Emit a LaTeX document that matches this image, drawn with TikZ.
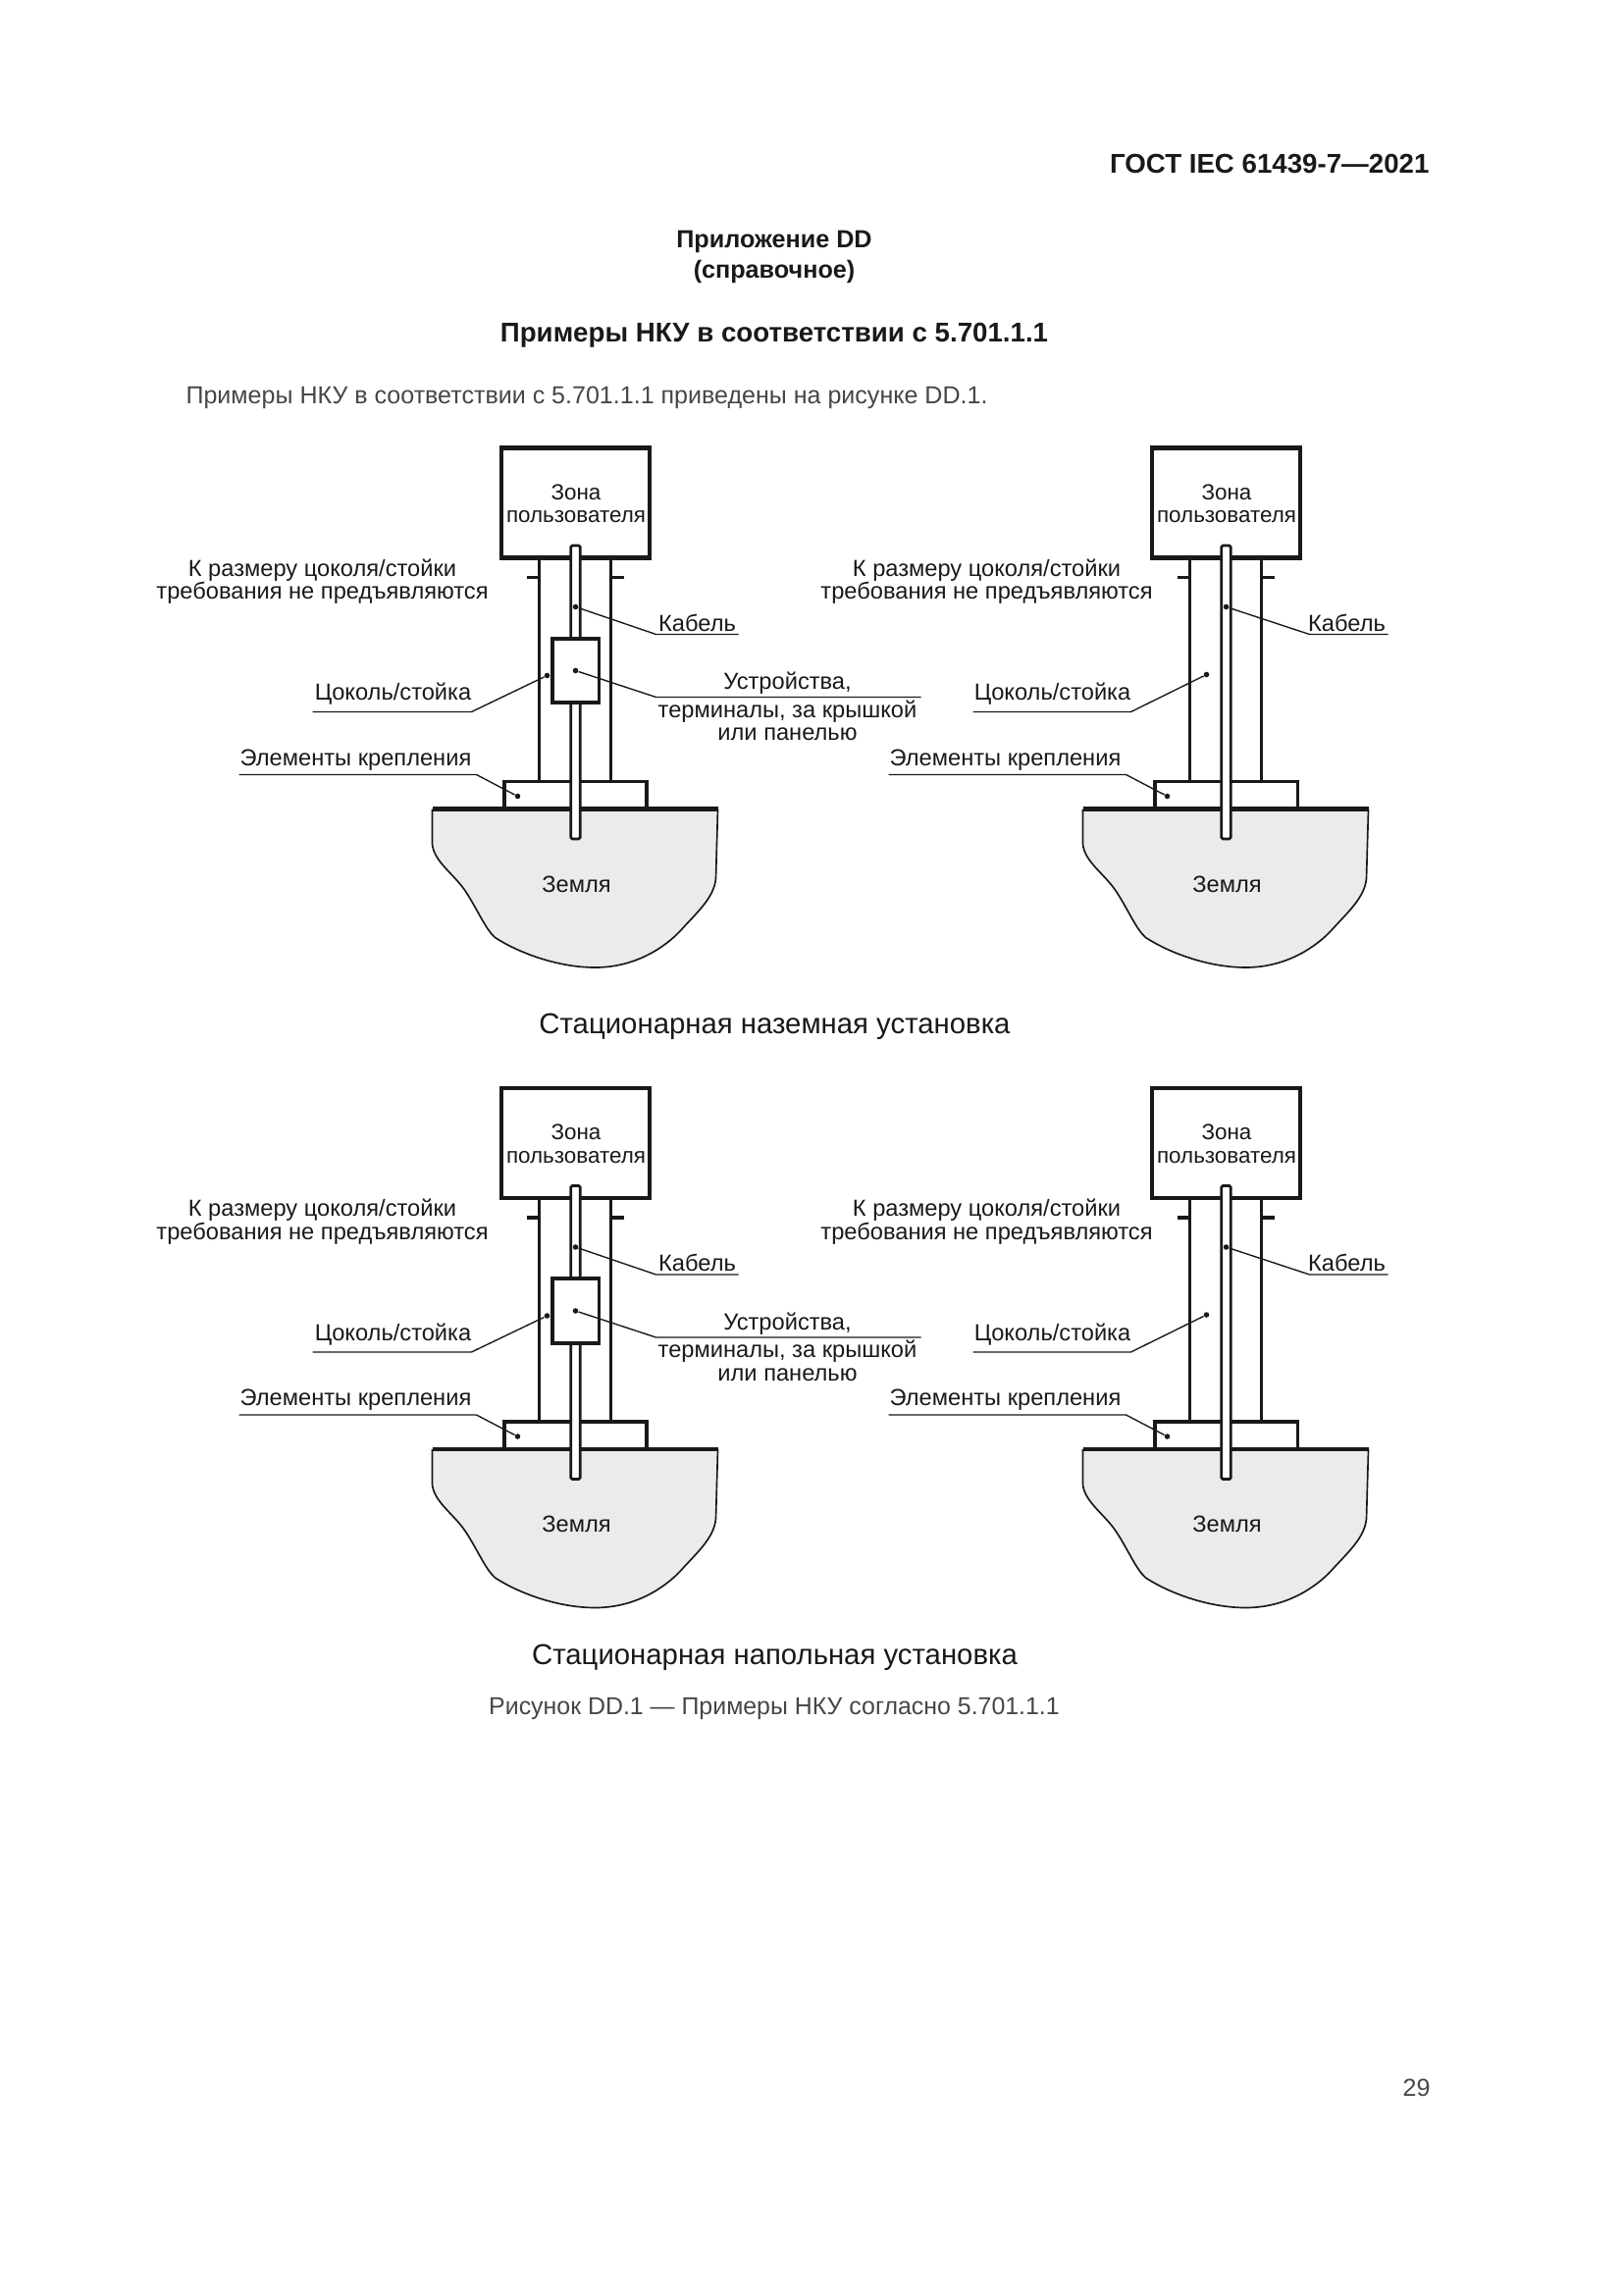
\documentclass[tikz,border=0pt]{standalone}
\usepackage{fontspec}
\setmainfont{Liberation Sans}
\usetikzlibrary{positioning}
\definecolor{ink}{RGB}{25, 25, 25}
\definecolor{prose}{RGB}{70, 70, 70}
\definecolor{soil}{RGB}{235, 235, 235}
\tikzset{
    zone/.style={rectangle, draw=ink, line width=1.6pt, fill=white, minimum width=54.6pt, minimum height=40.5pt, inner sep=0pt, align=center},
    device/.style={rectangle, draw=ink, line width=1.4pt, fill=white, minimum width=17.3pt, minimum height=23.6pt, inner sep=0pt},
    cable/.style={rectangle, draw=ink, line width=1pt, fill=white, rounded corners=0.5pt, minimum width=3.4pt, minimum height=108pt, inner sep=0pt},
    footing/.style={rectangle, draw=ink, line width=1.2pt, minimum width=52.5pt, minimum height=10.2pt, inner sep=0pt},
    wall/.style={draw=ink, line width=1.3pt},
    plate/.style={draw=ink, line width=1.7pt},
    leader/.style={draw=ink, line width=0.5pt},
    pin/.style={circle, fill=ink, minimum size=2pt, inner sep=0pt},
    label/.style={inner sep=0pt, text=ink, align=center, font=\fontsize{8.55}{8.5}\selectfont},
    prosetext/.style={inner sep=0pt, text=prose, align=center, font=\fontsize{9.05}{11}\selectfont},
    caption/.style={inner sep=0pt, text=ink, align=center, font=\fontsize{10.6}{12}\selectfont},
    heading/.style={inner sep=0pt, text=ink, align=center, font=\fontsize{10}{11}\selectfont\bfseries}
}
\begin{document}
\begin{tikzpicture}[x=0.127mm, y=-0.127mm]
    \useasboundingbox (0,0) rectangle (1654,2339);

    % Page texts
    \node[heading, anchor=east] (gost) at (1457,167) {ГОСТ IEC 61439-7—2021};
    \node[heading, font=\fontsize{9.1}{11}\selectfont\bfseries] (annex) at (789,246) {Приложение DD};
    \node[heading, font=\fontsize{9.1}{11}\selectfont\bfseries] (annexnote) at (789,277) {(справочное)};
    \node[heading] (title) at (789,342) {Примеры НКУ в соответствии с 5.701.1.1};
    \node[prosetext, anchor=west] (intro) at (189,405) {Примеры НКУ в соответствии с 5.701.1.1 приведены на рисунке DD.1.};

    \foreach \row/\dy in {a/-1.5, b/651} {
    \begin{scope}[shift={(-2.5,\dy)}, name prefix=\row-]
        % Stands, the second one is the first moved to the right
        \foreach \col/\dx in {l/0, r/663} {
        \begin{scope}[shift={(\dx,0)}, name prefix=\row\col-]
            % Ground
            \draw[fill=soil, draw=ink, line width=0.6pt] (443,826) -- (443,862)
                .. controls (445,880) and (465,892) .. (477,910)
                .. controls (490,930) and (497,948) .. (507,957)
                .. controls (530,972) and (570,987.5) .. (609,987.5)
                .. controls (650,987.5) and (680,967) .. (696,950)
                .. controls (712,932) and (730,917) .. (732,897)
                -- (734,826);

            % Base and ground line
            \node[footing] (base) at (589,812) {};
            \coordinate (gl) at (443,826);
            \coordinate (gr) at (734,826);
            \draw[plate] (gl) -- (gr);

            % Zone
            \node[zone] (box) at (589,514) {};
            \node[label, font=\fontsize{8.1}{8.5}\selectfont] (zonetext) at (589.5,515) {Зона\\пользователя};

            % Posts with ticks
            \coordinate (p1t) at (552,570);
            \coordinate (p1b) at (552,798);
            \coordinate (p2t) at (625,570);
            \coordinate (p2b) at (625,798);
            \coordinate (t1a) at (539,590);
            \coordinate (t1b) at (552,590);
            \coordinate (t2a) at (625,590);
            \coordinate (t2b) at (638,590);
            \draw[wall] (p1t) -- (p1b);
            \draw[wall] (p2t) -- (p2b);
            \draw[wall] (t1a) -- (t1b);
            \draw[wall] (t2a) -- (t2b);

            % Cable
            \node[cable] (wire) at (589,707) {};

            % Ground text
            \node[label] (soiltext) at (590,902.5) {Земля};
        \end{scope}
        }

        % Left stand has the device
        \node[device] (dev) at (589,685) {};

        % Left labels
        \node[label] (size1) at (331,594) {К размеру цоколя/стойки\\требования не предъявляются};
        \node[label] (kab1) at (713,636) {Кабель};
        \node[label] (cok1) at (403,709) {Цоколь/стойка};
        \node[label] (elem1) at (365,776) {Элементы крепления};
        \node[label] (devtop) at (805,698) {Устройства,};
        \node[label] (devlow) at (805,736) {терминалы, за крышкой\\или панелью};

        \node[pin] (kab1dot) at (589,620) {};
        \coordinate (kab1knee) at (671,648);
        \coordinate (kab1end) at (755,648);
        \draw[leader] (kab1dot) -- (kab1knee) -- (kab1end);

        \node[pin] (cok1dot) at (560,690) {};
        \coordinate (cok1knee) at (483,727);
        \coordinate (cok1end) at (321,727);
        \draw[leader] (cok1dot) -- (cok1knee) -- (cok1end);

        \node[pin] (elem1dot) at (530,813) {};
        \coordinate (elem1knee) at (488,791);
        \coordinate (elem1end) at (246,791);
        \draw[leader] (elem1dot) -- (elem1knee) -- (elem1end);

        \node[pin] (devdot) at (589,685) {};
        \coordinate (devknee) at (671,712);
        \coordinate (devend) at (941,712);
        \draw[leader] (devdot) -- (devknee) -- (devend);

        % Right labels
        \node[label] (size2) at (1008,594) {К размеру цоколя/стойки\\требования не предъявляются};
        \node[label] (kab2) at (1375,636) {Кабель};
        \node[label] (cok2) at (1075,709) {Цоколь/стойка};
        \node[label] (elem2) at (1027,776) {Элементы крепления};

        \node[pin] (kab2dot) at (1252,620) {};
        \coordinate (kab2knee) at (1337,648);
        \coordinate (kab2end) at (1417,648);
        \draw[leader] (kab2dot) -- (kab2knee) -- (kab2end);

        \node[pin] (cok2dot) at (1232,689) {};
        \coordinate (cok2knee) at (1155,727);
        \coordinate (cok2end) at (994,727);
        \draw[leader] (cok2dot) -- (cok2knee) -- (cok2end);

        \node[pin] (elem2dot) at (1192,813) {};
        \coordinate (elem2knee) at (1150,791);
        \coordinate (elem2end) at (908,791);
        \draw[leader] (elem2dot) -- (elem2knee) -- (elem2end);
    \end{scope}
    }

    % Captions
    \node[caption] (fixed1) at (789.5,1046) {Стационарная наземная установка};
    \node[caption] (fixed2) at (789.5,1689) {Стационарная напольная установка};
    \node[prosetext, font=\fontsize{9}{11}\selectfont] (figcap) at (789,1741) {Рисунок DD.1 — Примеры НКУ согласно 5.701.1.1};
    \node[prosetext, anchor=east] (pageno) at (1458,2128) {29};
\end{tikzpicture}
\end{document}
